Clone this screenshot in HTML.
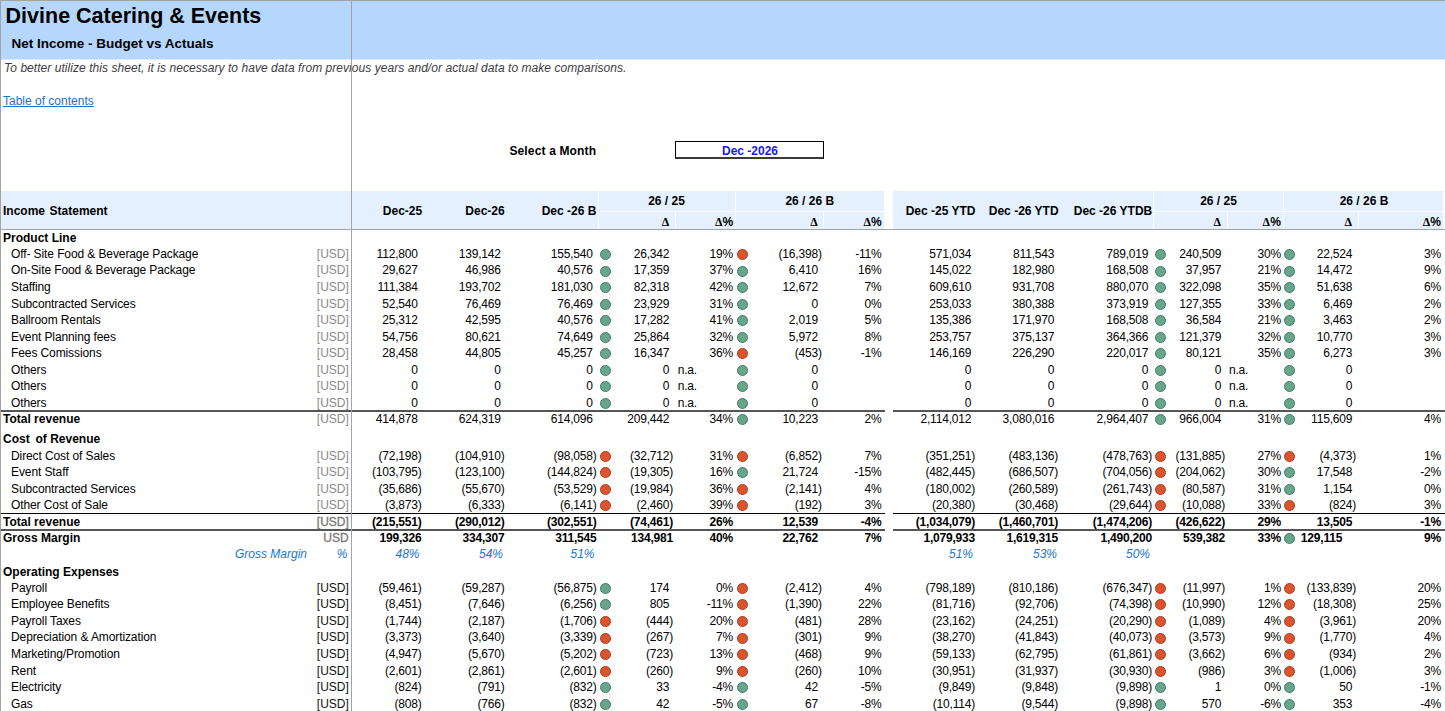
<!DOCTYPE html>
<html><head><meta charset="utf-8"><style>
html,body{margin:0;padding:0;background:#fff;}
body{width:1445px;height:711px;overflow:hidden;position:relative;font-family:"Liberation Sans", sans-serif;color:#000;}
body>div{position:absolute;}
.t{white-space:nowrap;}
.dot{border-radius:50%;}
</style></head><body>
<div style="left:0px;top:0px;width:1445px;height:1px;background:#a3a3a3;"></div>
<div style="left:0px;top:0px;width:1px;height:711px;background:#a3a3a3;"></div>
<div style="left:1px;top:1px;width:1444px;height:58px;background:#b4d7fb;"></div>
<div style="left:1px;top:59px;width:1444px;height:1px;background:#dcecfd;"></div>
<div class="t" style="left:5.60px;top:5.69px;font-size:21.5px;line-height:20px;font-weight:bold;color:#000">Divine Catering &amp; Events</div>
<div class="t" style="left:11.60px;top:34.14px;font-size:13.5px;line-height:20px;font-weight:bold;color:#000">Net Income - Budget vs Actuals</div>
<div class="t" style="left:4.00px;top:58.43px;font-size:12px;line-height:20px;font-style:italic;color:#3c3c44;letter-spacing:0.05px">To better utilize this sheet, it is necessary to have data from previous years and/or actual data to make comparisons.</div>
<div class="t" style="left:3.00px;top:90.53px;font-size:12px;line-height:20px;color:#1f6fd0;text-decoration:underline">Table of contents</div>
<div class="t" style="left:509.40px;top:141.03px;font-size:12px;line-height:20px;font-weight:bold;letter-spacing:0.15px">Select a Month</div>
<div style="left:675px;top:141px;width:147px;height:15px;background:#fff;border:1px solid #000;border-bottom:2px solid #3a3a3a"></div>
<div class="t" style="left:550.00px;top:141.03px;width:400px;text-align:center;font-size:12px;line-height:20px;font-weight:bold;color:#1a1af2">Dec -2026</div>
<div style="left:1px;top:191px;width:883px;height:38px;background:#e4f0fd;"></div>
<div style="left:893px;top:191px;width:550px;height:38px;background:#e4f0fd;"></div>
<div style="left:598px;top:191px;width:1px;height:38px;background:#fff;"></div>
<div style="left:735px;top:191px;width:1px;height:38px;background:#fff;"></div>
<div style="left:598px;top:211px;width:286px;height:1px;background:#fff;"></div>
<div style="left:675px;top:212px;width:1px;height:17px;background:#fff;"></div>
<div style="left:823px;top:212px;width:1px;height:17px;background:#fff;"></div>
<div style="left:1153px;top:191px;width:1px;height:38px;background:#fff;"></div>
<div style="left:1283px;top:191px;width:1px;height:38px;background:#fff;"></div>
<div style="left:1153px;top:211px;width:290px;height:1px;background:#fff;"></div>
<div style="left:1227px;top:212px;width:1px;height:17px;background:#fff;"></div>
<div style="left:1358px;top:212px;width:1px;height:17px;background:#fff;"></div>
<div style="left:0px;top:229px;width:1445px;height:1px;background:#a3a3a3;"></div>
<div class="t" style="left:3.00px;top:200.53px;font-size:12px;line-height:20px;font-weight:bold;word-spacing:1.2px">Income Statement</div>
<div class="t" style="left:202.50px;top:200.53px;width:400px;text-align:center;font-size:12px;line-height:20px;font-weight:bold">Dec-25</div>
<div class="t" style="left:285.00px;top:200.53px;width:400px;text-align:center;font-size:12px;line-height:20px;font-weight:bold">Dec-26</div>
<div class="t" style="left:369.00px;top:200.53px;width:400px;text-align:center;font-size:12px;line-height:20px;font-weight:bold">Dec -26 B</div>
<div class="t" style="left:466.50px;top:190.73px;width:400px;text-align:center;font-size:12px;line-height:20px;font-weight:bold">26 / 25</div>
<div class="t" style="left:609.80px;top:190.73px;width:400px;text-align:center;font-size:12px;line-height:20px;font-weight:bold">26 / 26 B</div>
<div class="t" style="left:269.30px;top:211.53px;width:400px;text-align:right;font-size:12px;line-height:20px;font-weight:bold"><span style="font-family:'Liberation Serif',serif">&Delta;</span></div>
<div class="t" style="left:333.20px;top:211.53px;width:400px;text-align:right;font-size:12px;line-height:20px;font-weight:bold"><span style="font-family:'Liberation Serif',serif">&Delta;</span>%</div>
<div class="t" style="left:417.70px;top:211.53px;width:400px;text-align:right;font-size:12px;line-height:20px;font-weight:bold"><span style="font-family:'Liberation Serif',serif">&Delta;</span></div>
<div class="t" style="left:481.70px;top:211.53px;width:400px;text-align:right;font-size:12px;line-height:20px;font-weight:bold"><span style="font-family:'Liberation Serif',serif">&Delta;</span>%</div>
<div class="t" style="left:740.60px;top:200.53px;width:400px;text-align:center;font-size:12px;line-height:20px;font-weight:bold">Dec -25 YTD</div>
<div class="t" style="left:823.70px;top:200.53px;width:400px;text-align:center;font-size:12px;line-height:20px;font-weight:bold">Dec -26 YTD</div>
<div class="t" style="left:913.00px;top:200.53px;width:400px;text-align:center;font-size:12px;line-height:20px;font-weight:bold">Dec -26 YTDB</div>
<div class="t" style="left:1018.50px;top:190.73px;width:400px;text-align:center;font-size:12px;line-height:20px;font-weight:bold">26 / 25</div>
<div class="t" style="left:1164.00px;top:190.73px;width:400px;text-align:center;font-size:12px;line-height:20px;font-weight:bold">26 / 26 B</div>
<div class="t" style="left:821.00px;top:211.53px;width:400px;text-align:right;font-size:12px;line-height:20px;font-weight:bold"><span style="font-family:'Liberation Serif',serif">&Delta;</span></div>
<div class="t" style="left:880.80px;top:211.53px;width:400px;text-align:right;font-size:12px;line-height:20px;font-weight:bold"><span style="font-family:'Liberation Serif',serif">&Delta;</span>%</div>
<div class="t" style="left:952.00px;top:211.53px;width:400px;text-align:right;font-size:12px;line-height:20px;font-weight:bold"><span style="font-family:'Liberation Serif',serif">&Delta;</span></div>
<div class="t" style="left:1041.00px;top:211.53px;width:400px;text-align:right;font-size:12px;line-height:20px;font-weight:bold"><span style="font-family:'Liberation Serif',serif">&Delta;</span>%</div>
<div class="t" style="left:3.00px;top:227.93px;font-size:12px;line-height:20px;font-weight:bold">Product Line</div>
<div class="t" style="left:11.00px;top:243.93px;font-size:12px;line-height:20px;letter-spacing:-0.1px">Off- Site Food &amp; Beverage Package</div>
<div class="t" style="left:-51.20px;top:243.93px;width:400px;text-align:right;font-size:12px;line-height:20px;color:#8a8a8a">[USD]</div>
<div class="t" style="left:21.50px;top:243.93px;width:400px;text-align:right;font-size:12px;line-height:20px;letter-spacing:-0.2px;">112,800<span style="visibility:hidden">)</span></div>
<div class="t" style="left:104.50px;top:243.93px;width:400px;text-align:right;font-size:12px;line-height:20px;letter-spacing:-0.2px;">139,142<span style="visibility:hidden">)</span></div>
<div class="t" style="left:196.50px;top:243.93px;width:400px;text-align:right;font-size:12px;line-height:20px;letter-spacing:-0.2px;">155,540<span style="visibility:hidden">)</span></div>
<div class="dot" style="left:599.60px;top:249.00px;width:9px;height:9px;background:#68a68b;border:1px solid #3f7f62"></div>
<div class="t" style="left:273.00px;top:243.93px;width:400px;text-align:right;font-size:12px;line-height:20px;letter-spacing:-0.2px;">26,342<span style="visibility:hidden">)</span></div>
<div class="t" style="left:333.00px;top:243.93px;width:400px;text-align:right;font-size:12px;line-height:20px;letter-spacing:-0.2px;">19%</div>
<div class="dot" style="left:737.10px;top:249.00px;width:9px;height:9px;background:#da552f;border:1px solid #b03b1a"></div>
<div class="t" style="left:421.70px;top:243.93px;width:400px;text-align:right;font-size:12px;line-height:20px;letter-spacing:-0.2px;">(16,398)</div>
<div class="t" style="left:481.50px;top:243.93px;width:400px;text-align:right;font-size:12px;line-height:20px;letter-spacing:-0.2px;">-11%</div>
<div class="t" style="left:575.00px;top:243.93px;width:400px;text-align:right;font-size:12px;line-height:20px;letter-spacing:-0.2px;">571,034<span style="visibility:hidden">)</span></div>
<div class="t" style="left:658.00px;top:243.93px;width:400px;text-align:right;font-size:12px;line-height:20px;letter-spacing:-0.2px;">811,543<span style="visibility:hidden">)</span></div>
<div class="t" style="left:752.00px;top:243.93px;width:400px;text-align:right;font-size:12px;line-height:20px;letter-spacing:-0.2px;">789,019<span style="visibility:hidden">)</span></div>
<div class="dot" style="left:1154.80px;top:249.00px;width:9px;height:9px;background:#68a68b;border:1px solid #3f7f62"></div>
<div class="t" style="left:825.00px;top:243.93px;width:400px;text-align:right;font-size:12px;line-height:20px;letter-spacing:-0.2px;">240,509<span style="visibility:hidden">)</span></div>
<div class="t" style="left:881.00px;top:243.93px;width:400px;text-align:right;font-size:12px;line-height:20px;letter-spacing:-0.2px;">30%</div>
<div class="dot" style="left:1284.30px;top:249.00px;width:9px;height:9px;background:#68a68b;border:1px solid #3f7f62"></div>
<div class="t" style="left:956.00px;top:243.93px;width:400px;text-align:right;font-size:12px;line-height:20px;letter-spacing:-0.2px;">22,524<span style="visibility:hidden">)</span></div>
<div class="t" style="left:1041.00px;top:243.93px;width:400px;text-align:right;font-size:12px;line-height:20px;letter-spacing:-0.2px;">3%</div>
<div class="t" style="left:11.00px;top:260.48px;font-size:12px;line-height:20px;letter-spacing:-0.1px">On-Site Food &amp; Beverage Package</div>
<div class="t" style="left:-51.20px;top:260.48px;width:400px;text-align:right;font-size:12px;line-height:20px;color:#8a8a8a">[USD]</div>
<div class="t" style="left:21.50px;top:260.48px;width:400px;text-align:right;font-size:12px;line-height:20px;letter-spacing:-0.2px;">29,627<span style="visibility:hidden">)</span></div>
<div class="t" style="left:104.50px;top:260.48px;width:400px;text-align:right;font-size:12px;line-height:20px;letter-spacing:-0.2px;">46,986<span style="visibility:hidden">)</span></div>
<div class="t" style="left:196.50px;top:260.48px;width:400px;text-align:right;font-size:12px;line-height:20px;letter-spacing:-0.2px;">40,576<span style="visibility:hidden">)</span></div>
<div class="dot" style="left:599.60px;top:265.55px;width:9px;height:9px;background:#68a68b;border:1px solid #3f7f62"></div>
<div class="t" style="left:273.00px;top:260.48px;width:400px;text-align:right;font-size:12px;line-height:20px;letter-spacing:-0.2px;">17,359<span style="visibility:hidden">)</span></div>
<div class="t" style="left:333.00px;top:260.48px;width:400px;text-align:right;font-size:12px;line-height:20px;letter-spacing:-0.2px;">37%</div>
<div class="dot" style="left:737.10px;top:265.55px;width:9px;height:9px;background:#68a68b;border:1px solid #3f7f62"></div>
<div class="t" style="left:421.70px;top:260.48px;width:400px;text-align:right;font-size:12px;line-height:20px;letter-spacing:-0.2px;">6,410<span style="visibility:hidden">)</span></div>
<div class="t" style="left:481.50px;top:260.48px;width:400px;text-align:right;font-size:12px;line-height:20px;letter-spacing:-0.2px;">16%</div>
<div class="t" style="left:575.00px;top:260.48px;width:400px;text-align:right;font-size:12px;line-height:20px;letter-spacing:-0.2px;">145,022<span style="visibility:hidden">)</span></div>
<div class="t" style="left:658.00px;top:260.48px;width:400px;text-align:right;font-size:12px;line-height:20px;letter-spacing:-0.2px;">182,980<span style="visibility:hidden">)</span></div>
<div class="t" style="left:752.00px;top:260.48px;width:400px;text-align:right;font-size:12px;line-height:20px;letter-spacing:-0.2px;">168,508<span style="visibility:hidden">)</span></div>
<div class="dot" style="left:1154.80px;top:265.55px;width:9px;height:9px;background:#68a68b;border:1px solid #3f7f62"></div>
<div class="t" style="left:825.00px;top:260.48px;width:400px;text-align:right;font-size:12px;line-height:20px;letter-spacing:-0.2px;">37,957<span style="visibility:hidden">)</span></div>
<div class="t" style="left:881.00px;top:260.48px;width:400px;text-align:right;font-size:12px;line-height:20px;letter-spacing:-0.2px;">21%</div>
<div class="dot" style="left:1284.30px;top:265.55px;width:9px;height:9px;background:#68a68b;border:1px solid #3f7f62"></div>
<div class="t" style="left:956.00px;top:260.48px;width:400px;text-align:right;font-size:12px;line-height:20px;letter-spacing:-0.2px;">14,472<span style="visibility:hidden">)</span></div>
<div class="t" style="left:1041.00px;top:260.48px;width:400px;text-align:right;font-size:12px;line-height:20px;letter-spacing:-0.2px;">9%</div>
<div class="t" style="left:11.00px;top:277.03px;font-size:12px;line-height:20px;letter-spacing:-0.1px">Staffing</div>
<div class="t" style="left:-51.20px;top:277.03px;width:400px;text-align:right;font-size:12px;line-height:20px;color:#8a8a8a">[USD]</div>
<div class="t" style="left:21.50px;top:277.03px;width:400px;text-align:right;font-size:12px;line-height:20px;letter-spacing:-0.2px;">111,384<span style="visibility:hidden">)</span></div>
<div class="t" style="left:104.50px;top:277.03px;width:400px;text-align:right;font-size:12px;line-height:20px;letter-spacing:-0.2px;">193,702<span style="visibility:hidden">)</span></div>
<div class="t" style="left:196.50px;top:277.03px;width:400px;text-align:right;font-size:12px;line-height:20px;letter-spacing:-0.2px;">181,030<span style="visibility:hidden">)</span></div>
<div class="dot" style="left:599.60px;top:282.10px;width:9px;height:9px;background:#68a68b;border:1px solid #3f7f62"></div>
<div class="t" style="left:273.00px;top:277.03px;width:400px;text-align:right;font-size:12px;line-height:20px;letter-spacing:-0.2px;">82,318<span style="visibility:hidden">)</span></div>
<div class="t" style="left:333.00px;top:277.03px;width:400px;text-align:right;font-size:12px;line-height:20px;letter-spacing:-0.2px;">42%</div>
<div class="dot" style="left:737.10px;top:282.10px;width:9px;height:9px;background:#68a68b;border:1px solid #3f7f62"></div>
<div class="t" style="left:421.70px;top:277.03px;width:400px;text-align:right;font-size:12px;line-height:20px;letter-spacing:-0.2px;">12,672<span style="visibility:hidden">)</span></div>
<div class="t" style="left:481.50px;top:277.03px;width:400px;text-align:right;font-size:12px;line-height:20px;letter-spacing:-0.2px;">7%</div>
<div class="t" style="left:575.00px;top:277.03px;width:400px;text-align:right;font-size:12px;line-height:20px;letter-spacing:-0.2px;">609,610<span style="visibility:hidden">)</span></div>
<div class="t" style="left:658.00px;top:277.03px;width:400px;text-align:right;font-size:12px;line-height:20px;letter-spacing:-0.2px;">931,708<span style="visibility:hidden">)</span></div>
<div class="t" style="left:752.00px;top:277.03px;width:400px;text-align:right;font-size:12px;line-height:20px;letter-spacing:-0.2px;">880,070<span style="visibility:hidden">)</span></div>
<div class="dot" style="left:1154.80px;top:282.10px;width:9px;height:9px;background:#68a68b;border:1px solid #3f7f62"></div>
<div class="t" style="left:825.00px;top:277.03px;width:400px;text-align:right;font-size:12px;line-height:20px;letter-spacing:-0.2px;">322,098<span style="visibility:hidden">)</span></div>
<div class="t" style="left:881.00px;top:277.03px;width:400px;text-align:right;font-size:12px;line-height:20px;letter-spacing:-0.2px;">35%</div>
<div class="dot" style="left:1284.30px;top:282.10px;width:9px;height:9px;background:#68a68b;border:1px solid #3f7f62"></div>
<div class="t" style="left:956.00px;top:277.03px;width:400px;text-align:right;font-size:12px;line-height:20px;letter-spacing:-0.2px;">51,638<span style="visibility:hidden">)</span></div>
<div class="t" style="left:1041.00px;top:277.03px;width:400px;text-align:right;font-size:12px;line-height:20px;letter-spacing:-0.2px;">6%</div>
<div class="t" style="left:11.00px;top:293.58px;font-size:12px;line-height:20px;letter-spacing:-0.1px">Subcontracted Services</div>
<div class="t" style="left:-51.20px;top:293.58px;width:400px;text-align:right;font-size:12px;line-height:20px;color:#8a8a8a">[USD]</div>
<div class="t" style="left:21.50px;top:293.58px;width:400px;text-align:right;font-size:12px;line-height:20px;letter-spacing:-0.2px;">52,540<span style="visibility:hidden">)</span></div>
<div class="t" style="left:104.50px;top:293.58px;width:400px;text-align:right;font-size:12px;line-height:20px;letter-spacing:-0.2px;">76,469<span style="visibility:hidden">)</span></div>
<div class="t" style="left:196.50px;top:293.58px;width:400px;text-align:right;font-size:12px;line-height:20px;letter-spacing:-0.2px;">76,469<span style="visibility:hidden">)</span></div>
<div class="dot" style="left:599.60px;top:298.65px;width:9px;height:9px;background:#68a68b;border:1px solid #3f7f62"></div>
<div class="t" style="left:273.00px;top:293.58px;width:400px;text-align:right;font-size:12px;line-height:20px;letter-spacing:-0.2px;">23,929<span style="visibility:hidden">)</span></div>
<div class="t" style="left:333.00px;top:293.58px;width:400px;text-align:right;font-size:12px;line-height:20px;letter-spacing:-0.2px;">31%</div>
<div class="dot" style="left:737.10px;top:298.65px;width:9px;height:9px;background:#68a68b;border:1px solid #3f7f62"></div>
<div class="t" style="left:421.70px;top:293.58px;width:400px;text-align:right;font-size:12px;line-height:20px;letter-spacing:-0.2px;">0<span style="visibility:hidden">)</span></div>
<div class="t" style="left:481.50px;top:293.58px;width:400px;text-align:right;font-size:12px;line-height:20px;letter-spacing:-0.2px;">0%</div>
<div class="t" style="left:575.00px;top:293.58px;width:400px;text-align:right;font-size:12px;line-height:20px;letter-spacing:-0.2px;">253,033<span style="visibility:hidden">)</span></div>
<div class="t" style="left:658.00px;top:293.58px;width:400px;text-align:right;font-size:12px;line-height:20px;letter-spacing:-0.2px;">380,388<span style="visibility:hidden">)</span></div>
<div class="t" style="left:752.00px;top:293.58px;width:400px;text-align:right;font-size:12px;line-height:20px;letter-spacing:-0.2px;">373,919<span style="visibility:hidden">)</span></div>
<div class="dot" style="left:1154.80px;top:298.65px;width:9px;height:9px;background:#68a68b;border:1px solid #3f7f62"></div>
<div class="t" style="left:825.00px;top:293.58px;width:400px;text-align:right;font-size:12px;line-height:20px;letter-spacing:-0.2px;">127,355<span style="visibility:hidden">)</span></div>
<div class="t" style="left:881.00px;top:293.58px;width:400px;text-align:right;font-size:12px;line-height:20px;letter-spacing:-0.2px;">33%</div>
<div class="dot" style="left:1284.30px;top:298.65px;width:9px;height:9px;background:#68a68b;border:1px solid #3f7f62"></div>
<div class="t" style="left:956.00px;top:293.58px;width:400px;text-align:right;font-size:12px;line-height:20px;letter-spacing:-0.2px;">6,469<span style="visibility:hidden">)</span></div>
<div class="t" style="left:1041.00px;top:293.58px;width:400px;text-align:right;font-size:12px;line-height:20px;letter-spacing:-0.2px;">2%</div>
<div class="t" style="left:11.00px;top:310.13px;font-size:12px;line-height:20px;letter-spacing:-0.1px">Ballroom Rentals</div>
<div class="t" style="left:-51.20px;top:310.13px;width:400px;text-align:right;font-size:12px;line-height:20px;color:#8a8a8a">[USD]</div>
<div class="t" style="left:21.50px;top:310.13px;width:400px;text-align:right;font-size:12px;line-height:20px;letter-spacing:-0.2px;">25,312<span style="visibility:hidden">)</span></div>
<div class="t" style="left:104.50px;top:310.13px;width:400px;text-align:right;font-size:12px;line-height:20px;letter-spacing:-0.2px;">42,595<span style="visibility:hidden">)</span></div>
<div class="t" style="left:196.50px;top:310.13px;width:400px;text-align:right;font-size:12px;line-height:20px;letter-spacing:-0.2px;">40,576<span style="visibility:hidden">)</span></div>
<div class="dot" style="left:599.60px;top:315.20px;width:9px;height:9px;background:#68a68b;border:1px solid #3f7f62"></div>
<div class="t" style="left:273.00px;top:310.13px;width:400px;text-align:right;font-size:12px;line-height:20px;letter-spacing:-0.2px;">17,282<span style="visibility:hidden">)</span></div>
<div class="t" style="left:333.00px;top:310.13px;width:400px;text-align:right;font-size:12px;line-height:20px;letter-spacing:-0.2px;">41%</div>
<div class="dot" style="left:737.10px;top:315.20px;width:9px;height:9px;background:#68a68b;border:1px solid #3f7f62"></div>
<div class="t" style="left:421.70px;top:310.13px;width:400px;text-align:right;font-size:12px;line-height:20px;letter-spacing:-0.2px;">2,019<span style="visibility:hidden">)</span></div>
<div class="t" style="left:481.50px;top:310.13px;width:400px;text-align:right;font-size:12px;line-height:20px;letter-spacing:-0.2px;">5%</div>
<div class="t" style="left:575.00px;top:310.13px;width:400px;text-align:right;font-size:12px;line-height:20px;letter-spacing:-0.2px;">135,386<span style="visibility:hidden">)</span></div>
<div class="t" style="left:658.00px;top:310.13px;width:400px;text-align:right;font-size:12px;line-height:20px;letter-spacing:-0.2px;">171,970<span style="visibility:hidden">)</span></div>
<div class="t" style="left:752.00px;top:310.13px;width:400px;text-align:right;font-size:12px;line-height:20px;letter-spacing:-0.2px;">168,508<span style="visibility:hidden">)</span></div>
<div class="dot" style="left:1154.80px;top:315.20px;width:9px;height:9px;background:#68a68b;border:1px solid #3f7f62"></div>
<div class="t" style="left:825.00px;top:310.13px;width:400px;text-align:right;font-size:12px;line-height:20px;letter-spacing:-0.2px;">36,584<span style="visibility:hidden">)</span></div>
<div class="t" style="left:881.00px;top:310.13px;width:400px;text-align:right;font-size:12px;line-height:20px;letter-spacing:-0.2px;">21%</div>
<div class="dot" style="left:1284.30px;top:315.20px;width:9px;height:9px;background:#68a68b;border:1px solid #3f7f62"></div>
<div class="t" style="left:956.00px;top:310.13px;width:400px;text-align:right;font-size:12px;line-height:20px;letter-spacing:-0.2px;">3,463<span style="visibility:hidden">)</span></div>
<div class="t" style="left:1041.00px;top:310.13px;width:400px;text-align:right;font-size:12px;line-height:20px;letter-spacing:-0.2px;">2%</div>
<div class="t" style="left:11.00px;top:326.68px;font-size:12px;line-height:20px;letter-spacing:-0.1px">Event Planning fees</div>
<div class="t" style="left:-51.20px;top:326.68px;width:400px;text-align:right;font-size:12px;line-height:20px;color:#8a8a8a">[USD]</div>
<div class="t" style="left:21.50px;top:326.68px;width:400px;text-align:right;font-size:12px;line-height:20px;letter-spacing:-0.2px;">54,756<span style="visibility:hidden">)</span></div>
<div class="t" style="left:104.50px;top:326.68px;width:400px;text-align:right;font-size:12px;line-height:20px;letter-spacing:-0.2px;">80,621<span style="visibility:hidden">)</span></div>
<div class="t" style="left:196.50px;top:326.68px;width:400px;text-align:right;font-size:12px;line-height:20px;letter-spacing:-0.2px;">74,649<span style="visibility:hidden">)</span></div>
<div class="dot" style="left:599.60px;top:331.75px;width:9px;height:9px;background:#68a68b;border:1px solid #3f7f62"></div>
<div class="t" style="left:273.00px;top:326.68px;width:400px;text-align:right;font-size:12px;line-height:20px;letter-spacing:-0.2px;">25,864<span style="visibility:hidden">)</span></div>
<div class="t" style="left:333.00px;top:326.68px;width:400px;text-align:right;font-size:12px;line-height:20px;letter-spacing:-0.2px;">32%</div>
<div class="dot" style="left:737.10px;top:331.75px;width:9px;height:9px;background:#68a68b;border:1px solid #3f7f62"></div>
<div class="t" style="left:421.70px;top:326.68px;width:400px;text-align:right;font-size:12px;line-height:20px;letter-spacing:-0.2px;">5,972<span style="visibility:hidden">)</span></div>
<div class="t" style="left:481.50px;top:326.68px;width:400px;text-align:right;font-size:12px;line-height:20px;letter-spacing:-0.2px;">8%</div>
<div class="t" style="left:575.00px;top:326.68px;width:400px;text-align:right;font-size:12px;line-height:20px;letter-spacing:-0.2px;">253,757<span style="visibility:hidden">)</span></div>
<div class="t" style="left:658.00px;top:326.68px;width:400px;text-align:right;font-size:12px;line-height:20px;letter-spacing:-0.2px;">375,137<span style="visibility:hidden">)</span></div>
<div class="t" style="left:752.00px;top:326.68px;width:400px;text-align:right;font-size:12px;line-height:20px;letter-spacing:-0.2px;">364,366<span style="visibility:hidden">)</span></div>
<div class="dot" style="left:1154.80px;top:331.75px;width:9px;height:9px;background:#68a68b;border:1px solid #3f7f62"></div>
<div class="t" style="left:825.00px;top:326.68px;width:400px;text-align:right;font-size:12px;line-height:20px;letter-spacing:-0.2px;">121,379<span style="visibility:hidden">)</span></div>
<div class="t" style="left:881.00px;top:326.68px;width:400px;text-align:right;font-size:12px;line-height:20px;letter-spacing:-0.2px;">32%</div>
<div class="dot" style="left:1284.30px;top:331.75px;width:9px;height:9px;background:#68a68b;border:1px solid #3f7f62"></div>
<div class="t" style="left:956.00px;top:326.68px;width:400px;text-align:right;font-size:12px;line-height:20px;letter-spacing:-0.2px;">10,770<span style="visibility:hidden">)</span></div>
<div class="t" style="left:1041.00px;top:326.68px;width:400px;text-align:right;font-size:12px;line-height:20px;letter-spacing:-0.2px;">3%</div>
<div class="t" style="left:11.00px;top:343.23px;font-size:12px;line-height:20px;letter-spacing:-0.1px">Fees Comissions</div>
<div class="t" style="left:-51.20px;top:343.23px;width:400px;text-align:right;font-size:12px;line-height:20px;color:#8a8a8a">[USD]</div>
<div class="t" style="left:21.50px;top:343.23px;width:400px;text-align:right;font-size:12px;line-height:20px;letter-spacing:-0.2px;">28,458<span style="visibility:hidden">)</span></div>
<div class="t" style="left:104.50px;top:343.23px;width:400px;text-align:right;font-size:12px;line-height:20px;letter-spacing:-0.2px;">44,805<span style="visibility:hidden">)</span></div>
<div class="t" style="left:196.50px;top:343.23px;width:400px;text-align:right;font-size:12px;line-height:20px;letter-spacing:-0.2px;">45,257<span style="visibility:hidden">)</span></div>
<div class="dot" style="left:599.60px;top:348.30px;width:9px;height:9px;background:#68a68b;border:1px solid #3f7f62"></div>
<div class="t" style="left:273.00px;top:343.23px;width:400px;text-align:right;font-size:12px;line-height:20px;letter-spacing:-0.2px;">16,347<span style="visibility:hidden">)</span></div>
<div class="t" style="left:333.00px;top:343.23px;width:400px;text-align:right;font-size:12px;line-height:20px;letter-spacing:-0.2px;">36%</div>
<div class="dot" style="left:737.10px;top:348.30px;width:9px;height:9px;background:#da552f;border:1px solid #b03b1a"></div>
<div class="t" style="left:421.70px;top:343.23px;width:400px;text-align:right;font-size:12px;line-height:20px;letter-spacing:-0.2px;">(453)</div>
<div class="t" style="left:481.50px;top:343.23px;width:400px;text-align:right;font-size:12px;line-height:20px;letter-spacing:-0.2px;">-1%</div>
<div class="t" style="left:575.00px;top:343.23px;width:400px;text-align:right;font-size:12px;line-height:20px;letter-spacing:-0.2px;">146,169<span style="visibility:hidden">)</span></div>
<div class="t" style="left:658.00px;top:343.23px;width:400px;text-align:right;font-size:12px;line-height:20px;letter-spacing:-0.2px;">226,290<span style="visibility:hidden">)</span></div>
<div class="t" style="left:752.00px;top:343.23px;width:400px;text-align:right;font-size:12px;line-height:20px;letter-spacing:-0.2px;">220,017<span style="visibility:hidden">)</span></div>
<div class="dot" style="left:1154.80px;top:348.30px;width:9px;height:9px;background:#68a68b;border:1px solid #3f7f62"></div>
<div class="t" style="left:825.00px;top:343.23px;width:400px;text-align:right;font-size:12px;line-height:20px;letter-spacing:-0.2px;">80,121<span style="visibility:hidden">)</span></div>
<div class="t" style="left:881.00px;top:343.23px;width:400px;text-align:right;font-size:12px;line-height:20px;letter-spacing:-0.2px;">35%</div>
<div class="dot" style="left:1284.30px;top:348.30px;width:9px;height:9px;background:#68a68b;border:1px solid #3f7f62"></div>
<div class="t" style="left:956.00px;top:343.23px;width:400px;text-align:right;font-size:12px;line-height:20px;letter-spacing:-0.2px;">6,273<span style="visibility:hidden">)</span></div>
<div class="t" style="left:1041.00px;top:343.23px;width:400px;text-align:right;font-size:12px;line-height:20px;letter-spacing:-0.2px;">3%</div>
<div class="t" style="left:11.00px;top:359.78px;font-size:12px;line-height:20px;letter-spacing:-0.1px">Others</div>
<div class="t" style="left:-51.20px;top:359.78px;width:400px;text-align:right;font-size:12px;line-height:20px;color:#8a8a8a">[USD]</div>
<div class="t" style="left:21.50px;top:359.78px;width:400px;text-align:right;font-size:12px;line-height:20px;letter-spacing:-0.2px;">0<span style="visibility:hidden">)</span></div>
<div class="t" style="left:104.50px;top:359.78px;width:400px;text-align:right;font-size:12px;line-height:20px;letter-spacing:-0.2px;">0<span style="visibility:hidden">)</span></div>
<div class="t" style="left:196.50px;top:359.78px;width:400px;text-align:right;font-size:12px;line-height:20px;letter-spacing:-0.2px;">0<span style="visibility:hidden">)</span></div>
<div class="dot" style="left:599.60px;top:364.85px;width:9px;height:9px;background:#68a68b;border:1px solid #3f7f62"></div>
<div class="t" style="left:273.00px;top:359.78px;width:400px;text-align:right;font-size:12px;line-height:20px;letter-spacing:-0.2px;">0<span style="visibility:hidden">)</span></div>
<div class="t" style="left:677.70px;top:359.78px;font-size:12px;line-height:20px;letter-spacing:-0.2px">n.a.</div>
<div class="dot" style="left:737.10px;top:364.85px;width:9px;height:9px;background:#68a68b;border:1px solid #3f7f62"></div>
<div class="t" style="left:421.70px;top:359.78px;width:400px;text-align:right;font-size:12px;line-height:20px;letter-spacing:-0.2px;">0<span style="visibility:hidden">)</span></div>
<div class="t" style="left:575.00px;top:359.78px;width:400px;text-align:right;font-size:12px;line-height:20px;letter-spacing:-0.2px;">0<span style="visibility:hidden">)</span></div>
<div class="t" style="left:658.00px;top:359.78px;width:400px;text-align:right;font-size:12px;line-height:20px;letter-spacing:-0.2px;">0<span style="visibility:hidden">)</span></div>
<div class="t" style="left:752.00px;top:359.78px;width:400px;text-align:right;font-size:12px;line-height:20px;letter-spacing:-0.2px;">0<span style="visibility:hidden">)</span></div>
<div class="dot" style="left:1154.80px;top:364.85px;width:9px;height:9px;background:#68a68b;border:1px solid #3f7f62"></div>
<div class="t" style="left:825.00px;top:359.78px;width:400px;text-align:right;font-size:12px;line-height:20px;letter-spacing:-0.2px;">0<span style="visibility:hidden">)</span></div>
<div class="t" style="left:1229.00px;top:359.78px;font-size:12px;line-height:20px;letter-spacing:-0.2px">n.a.</div>
<div class="dot" style="left:1284.30px;top:364.85px;width:9px;height:9px;background:#68a68b;border:1px solid #3f7f62"></div>
<div class="t" style="left:956.00px;top:359.78px;width:400px;text-align:right;font-size:12px;line-height:20px;letter-spacing:-0.2px;">0<span style="visibility:hidden">)</span></div>
<div class="t" style="left:11.00px;top:376.33px;font-size:12px;line-height:20px;letter-spacing:-0.1px">Others</div>
<div class="t" style="left:-51.20px;top:376.33px;width:400px;text-align:right;font-size:12px;line-height:20px;color:#8a8a8a">[USD]</div>
<div class="t" style="left:21.50px;top:376.33px;width:400px;text-align:right;font-size:12px;line-height:20px;letter-spacing:-0.2px;">0<span style="visibility:hidden">)</span></div>
<div class="t" style="left:104.50px;top:376.33px;width:400px;text-align:right;font-size:12px;line-height:20px;letter-spacing:-0.2px;">0<span style="visibility:hidden">)</span></div>
<div class="t" style="left:196.50px;top:376.33px;width:400px;text-align:right;font-size:12px;line-height:20px;letter-spacing:-0.2px;">0<span style="visibility:hidden">)</span></div>
<div class="dot" style="left:599.60px;top:381.40px;width:9px;height:9px;background:#68a68b;border:1px solid #3f7f62"></div>
<div class="t" style="left:273.00px;top:376.33px;width:400px;text-align:right;font-size:12px;line-height:20px;letter-spacing:-0.2px;">0<span style="visibility:hidden">)</span></div>
<div class="t" style="left:677.70px;top:376.33px;font-size:12px;line-height:20px;letter-spacing:-0.2px">n.a.</div>
<div class="dot" style="left:737.10px;top:381.40px;width:9px;height:9px;background:#68a68b;border:1px solid #3f7f62"></div>
<div class="t" style="left:421.70px;top:376.33px;width:400px;text-align:right;font-size:12px;line-height:20px;letter-spacing:-0.2px;">0<span style="visibility:hidden">)</span></div>
<div class="t" style="left:575.00px;top:376.33px;width:400px;text-align:right;font-size:12px;line-height:20px;letter-spacing:-0.2px;">0<span style="visibility:hidden">)</span></div>
<div class="t" style="left:658.00px;top:376.33px;width:400px;text-align:right;font-size:12px;line-height:20px;letter-spacing:-0.2px;">0<span style="visibility:hidden">)</span></div>
<div class="t" style="left:752.00px;top:376.33px;width:400px;text-align:right;font-size:12px;line-height:20px;letter-spacing:-0.2px;">0<span style="visibility:hidden">)</span></div>
<div class="dot" style="left:1154.80px;top:381.40px;width:9px;height:9px;background:#68a68b;border:1px solid #3f7f62"></div>
<div class="t" style="left:825.00px;top:376.33px;width:400px;text-align:right;font-size:12px;line-height:20px;letter-spacing:-0.2px;">0<span style="visibility:hidden">)</span></div>
<div class="t" style="left:1229.00px;top:376.33px;font-size:12px;line-height:20px;letter-spacing:-0.2px">n.a.</div>
<div class="dot" style="left:1284.30px;top:381.40px;width:9px;height:9px;background:#68a68b;border:1px solid #3f7f62"></div>
<div class="t" style="left:956.00px;top:376.33px;width:400px;text-align:right;font-size:12px;line-height:20px;letter-spacing:-0.2px;">0<span style="visibility:hidden">)</span></div>
<div class="t" style="left:11.00px;top:392.88px;font-size:12px;line-height:20px;letter-spacing:-0.1px">Others</div>
<div class="t" style="left:-51.20px;top:392.88px;width:400px;text-align:right;font-size:12px;line-height:20px;color:#8a8a8a">[USD]</div>
<div class="t" style="left:21.50px;top:392.88px;width:400px;text-align:right;font-size:12px;line-height:20px;letter-spacing:-0.2px;">0<span style="visibility:hidden">)</span></div>
<div class="t" style="left:104.50px;top:392.88px;width:400px;text-align:right;font-size:12px;line-height:20px;letter-spacing:-0.2px;">0<span style="visibility:hidden">)</span></div>
<div class="t" style="left:196.50px;top:392.88px;width:400px;text-align:right;font-size:12px;line-height:20px;letter-spacing:-0.2px;">0<span style="visibility:hidden">)</span></div>
<div class="dot" style="left:599.60px;top:397.95px;width:9px;height:9px;background:#68a68b;border:1px solid #3f7f62"></div>
<div class="t" style="left:273.00px;top:392.88px;width:400px;text-align:right;font-size:12px;line-height:20px;letter-spacing:-0.2px;">0<span style="visibility:hidden">)</span></div>
<div class="t" style="left:677.70px;top:392.88px;font-size:12px;line-height:20px;letter-spacing:-0.2px">n.a.</div>
<div class="dot" style="left:737.10px;top:397.95px;width:9px;height:9px;background:#68a68b;border:1px solid #3f7f62"></div>
<div class="t" style="left:421.70px;top:392.88px;width:400px;text-align:right;font-size:12px;line-height:20px;letter-spacing:-0.2px;">0<span style="visibility:hidden">)</span></div>
<div class="t" style="left:575.00px;top:392.88px;width:400px;text-align:right;font-size:12px;line-height:20px;letter-spacing:-0.2px;">0<span style="visibility:hidden">)</span></div>
<div class="t" style="left:658.00px;top:392.88px;width:400px;text-align:right;font-size:12px;line-height:20px;letter-spacing:-0.2px;">0<span style="visibility:hidden">)</span></div>
<div class="t" style="left:752.00px;top:392.88px;width:400px;text-align:right;font-size:12px;line-height:20px;letter-spacing:-0.2px;">0<span style="visibility:hidden">)</span></div>
<div class="dot" style="left:1154.80px;top:397.95px;width:9px;height:9px;background:#68a68b;border:1px solid #3f7f62"></div>
<div class="t" style="left:825.00px;top:392.88px;width:400px;text-align:right;font-size:12px;line-height:20px;letter-spacing:-0.2px;">0<span style="visibility:hidden">)</span></div>
<div class="t" style="left:1229.00px;top:392.88px;font-size:12px;line-height:20px;letter-spacing:-0.2px">n.a.</div>
<div class="dot" style="left:1284.30px;top:397.95px;width:9px;height:9px;background:#68a68b;border:1px solid #3f7f62"></div>
<div class="t" style="left:956.00px;top:392.88px;width:400px;text-align:right;font-size:12px;line-height:20px;letter-spacing:-0.2px;">0<span style="visibility:hidden">)</span></div>
<div style="left:1px;top:410px;width:884px;height:2px;background:#555;"></div>
<div style="left:893px;top:410px;width:552px;height:2px;background:#555;"></div>
<div class="t" style="left:3.00px;top:409.23px;font-size:12px;line-height:20px;font-weight:bold">Total revenue</div>
<div class="t" style="left:-51.20px;top:409.23px;width:400px;text-align:right;font-size:12px;line-height:20px;color:#8a8a8a">[USD]</div>
<div class="t" style="left:21.50px;top:409.23px;width:400px;text-align:right;font-size:12px;line-height:20px;letter-spacing:-0.2px;">414,878<span style="visibility:hidden">)</span></div>
<div class="t" style="left:104.50px;top:409.23px;width:400px;text-align:right;font-size:12px;line-height:20px;letter-spacing:-0.2px;">624,319<span style="visibility:hidden">)</span></div>
<div class="t" style="left:196.50px;top:409.23px;width:400px;text-align:right;font-size:12px;line-height:20px;letter-spacing:-0.2px;">614,096<span style="visibility:hidden">)</span></div>
<div class="t" style="left:273.00px;top:409.23px;width:400px;text-align:right;font-size:12px;line-height:20px;letter-spacing:-0.2px;">209,442<span style="visibility:hidden">)</span></div>
<div class="t" style="left:333.00px;top:409.23px;width:400px;text-align:right;font-size:12px;line-height:20px;letter-spacing:-0.2px;">34%</div>
<div class="dot" style="left:737.10px;top:414.30px;width:9px;height:9px;background:#68a68b;border:1px solid #3f7f62"></div>
<div class="t" style="left:421.70px;top:409.23px;width:400px;text-align:right;font-size:12px;line-height:20px;letter-spacing:-0.2px;">10,223<span style="visibility:hidden">)</span></div>
<div class="t" style="left:481.50px;top:409.23px;width:400px;text-align:right;font-size:12px;line-height:20px;letter-spacing:-0.2px;">2%</div>
<div class="t" style="left:575.00px;top:409.23px;width:400px;text-align:right;font-size:12px;line-height:20px;letter-spacing:-0.2px;">2,114,012<span style="visibility:hidden">)</span></div>
<div class="t" style="left:658.00px;top:409.23px;width:400px;text-align:right;font-size:12px;line-height:20px;letter-spacing:-0.2px;">3,080,016<span style="visibility:hidden">)</span></div>
<div class="t" style="left:752.00px;top:409.23px;width:400px;text-align:right;font-size:12px;line-height:20px;letter-spacing:-0.2px;">2,964,407<span style="visibility:hidden">)</span></div>
<div class="dot" style="left:1154.80px;top:414.30px;width:9px;height:9px;background:#68a68b;border:1px solid #3f7f62"></div>
<div class="t" style="left:825.00px;top:409.23px;width:400px;text-align:right;font-size:12px;line-height:20px;letter-spacing:-0.2px;">966,004<span style="visibility:hidden">)</span></div>
<div class="t" style="left:881.00px;top:409.23px;width:400px;text-align:right;font-size:12px;line-height:20px;letter-spacing:-0.2px;">31%</div>
<div class="dot" style="left:1284.30px;top:414.30px;width:9px;height:9px;background:#68a68b;border:1px solid #3f7f62"></div>
<div class="t" style="left:956.00px;top:409.23px;width:400px;text-align:right;font-size:12px;line-height:20px;letter-spacing:-0.2px;">115,609<span style="visibility:hidden">)</span></div>
<div class="t" style="left:1041.00px;top:409.23px;width:400px;text-align:right;font-size:12px;line-height:20px;letter-spacing:-0.2px;">4%</div>
<div class="t" style="left:3.00px;top:429.03px;font-size:12px;line-height:20px;font-weight:bold">Cost<span style="display:inline-block;width:2.5px"></span> of Revenue</div>
<div class="t" style="left:11.00px;top:445.63px;font-size:12px;line-height:20px;letter-spacing:-0.1px">Direct Cost of Sales</div>
<div class="t" style="left:-51.20px;top:445.63px;width:400px;text-align:right;font-size:12px;line-height:20px;color:#8a8a8a">[USD]</div>
<div class="t" style="left:21.50px;top:445.63px;width:400px;text-align:right;font-size:12px;line-height:20px;letter-spacing:-0.2px;">(72,198)</div>
<div class="t" style="left:104.50px;top:445.63px;width:400px;text-align:right;font-size:12px;line-height:20px;letter-spacing:-0.2px;">(104,910)</div>
<div class="t" style="left:196.50px;top:445.63px;width:400px;text-align:right;font-size:12px;line-height:20px;letter-spacing:-0.2px;">(98,058)</div>
<div class="dot" style="left:599.60px;top:450.70px;width:9px;height:9px;background:#da552f;border:1px solid #b03b1a"></div>
<div class="t" style="left:273.00px;top:445.63px;width:400px;text-align:right;font-size:12px;line-height:20px;letter-spacing:-0.2px;">(32,712)</div>
<div class="t" style="left:333.00px;top:445.63px;width:400px;text-align:right;font-size:12px;line-height:20px;letter-spacing:-0.2px;">31%</div>
<div class="dot" style="left:737.10px;top:450.70px;width:9px;height:9px;background:#da552f;border:1px solid #b03b1a"></div>
<div class="t" style="left:421.70px;top:445.63px;width:400px;text-align:right;font-size:12px;line-height:20px;letter-spacing:-0.2px;">(6,852)</div>
<div class="t" style="left:481.50px;top:445.63px;width:400px;text-align:right;font-size:12px;line-height:20px;letter-spacing:-0.2px;">7%</div>
<div class="t" style="left:575.00px;top:445.63px;width:400px;text-align:right;font-size:12px;line-height:20px;letter-spacing:-0.2px;">(351,251)</div>
<div class="t" style="left:658.00px;top:445.63px;width:400px;text-align:right;font-size:12px;line-height:20px;letter-spacing:-0.2px;">(483,136)</div>
<div class="t" style="left:752.00px;top:445.63px;width:400px;text-align:right;font-size:12px;line-height:20px;letter-spacing:-0.2px;">(478,763)</div>
<div class="dot" style="left:1154.80px;top:450.70px;width:9px;height:9px;background:#da552f;border:1px solid #b03b1a"></div>
<div class="t" style="left:825.00px;top:445.63px;width:400px;text-align:right;font-size:12px;line-height:20px;letter-spacing:-0.2px;">(131,885)</div>
<div class="t" style="left:881.00px;top:445.63px;width:400px;text-align:right;font-size:12px;line-height:20px;letter-spacing:-0.2px;">27%</div>
<div class="dot" style="left:1284.30px;top:450.70px;width:9px;height:9px;background:#da552f;border:1px solid #b03b1a"></div>
<div class="t" style="left:956.00px;top:445.63px;width:400px;text-align:right;font-size:12px;line-height:20px;letter-spacing:-0.2px;">(4,373)</div>
<div class="t" style="left:1041.00px;top:445.63px;width:400px;text-align:right;font-size:12px;line-height:20px;letter-spacing:-0.2px;">1%</div>
<div class="t" style="left:11.00px;top:462.18px;font-size:12px;line-height:20px;letter-spacing:-0.1px">Event Staff</div>
<div class="t" style="left:-51.20px;top:462.18px;width:400px;text-align:right;font-size:12px;line-height:20px;color:#8a8a8a">[USD]</div>
<div class="t" style="left:21.50px;top:462.18px;width:400px;text-align:right;font-size:12px;line-height:20px;letter-spacing:-0.2px;">(103,795)</div>
<div class="t" style="left:104.50px;top:462.18px;width:400px;text-align:right;font-size:12px;line-height:20px;letter-spacing:-0.2px;">(123,100)</div>
<div class="t" style="left:196.50px;top:462.18px;width:400px;text-align:right;font-size:12px;line-height:20px;letter-spacing:-0.2px;">(144,824)</div>
<div class="dot" style="left:599.60px;top:467.25px;width:9px;height:9px;background:#da552f;border:1px solid #b03b1a"></div>
<div class="t" style="left:273.00px;top:462.18px;width:400px;text-align:right;font-size:12px;line-height:20px;letter-spacing:-0.2px;">(19,305)</div>
<div class="t" style="left:333.00px;top:462.18px;width:400px;text-align:right;font-size:12px;line-height:20px;letter-spacing:-0.2px;">16%</div>
<div class="dot" style="left:737.10px;top:467.25px;width:9px;height:9px;background:#68a68b;border:1px solid #3f7f62"></div>
<div class="t" style="left:421.70px;top:462.18px;width:400px;text-align:right;font-size:12px;line-height:20px;letter-spacing:-0.2px;">21,724<span style="visibility:hidden">)</span></div>
<div class="t" style="left:481.50px;top:462.18px;width:400px;text-align:right;font-size:12px;line-height:20px;letter-spacing:-0.2px;">-15%</div>
<div class="t" style="left:575.00px;top:462.18px;width:400px;text-align:right;font-size:12px;line-height:20px;letter-spacing:-0.2px;">(482,445)</div>
<div class="t" style="left:658.00px;top:462.18px;width:400px;text-align:right;font-size:12px;line-height:20px;letter-spacing:-0.2px;">(686,507)</div>
<div class="t" style="left:752.00px;top:462.18px;width:400px;text-align:right;font-size:12px;line-height:20px;letter-spacing:-0.2px;">(704,056)</div>
<div class="dot" style="left:1154.80px;top:467.25px;width:9px;height:9px;background:#da552f;border:1px solid #b03b1a"></div>
<div class="t" style="left:825.00px;top:462.18px;width:400px;text-align:right;font-size:12px;line-height:20px;letter-spacing:-0.2px;">(204,062)</div>
<div class="t" style="left:881.00px;top:462.18px;width:400px;text-align:right;font-size:12px;line-height:20px;letter-spacing:-0.2px;">30%</div>
<div class="dot" style="left:1284.30px;top:467.25px;width:9px;height:9px;background:#68a68b;border:1px solid #3f7f62"></div>
<div class="t" style="left:956.00px;top:462.18px;width:400px;text-align:right;font-size:12px;line-height:20px;letter-spacing:-0.2px;">17,548<span style="visibility:hidden">)</span></div>
<div class="t" style="left:1041.00px;top:462.18px;width:400px;text-align:right;font-size:12px;line-height:20px;letter-spacing:-0.2px;">-2%</div>
<div class="t" style="left:11.00px;top:478.73px;font-size:12px;line-height:20px;letter-spacing:-0.1px">Subcontracted Services</div>
<div class="t" style="left:-51.20px;top:478.73px;width:400px;text-align:right;font-size:12px;line-height:20px;color:#8a8a8a">[USD]</div>
<div class="t" style="left:21.50px;top:478.73px;width:400px;text-align:right;font-size:12px;line-height:20px;letter-spacing:-0.2px;">(35,686)</div>
<div class="t" style="left:104.50px;top:478.73px;width:400px;text-align:right;font-size:12px;line-height:20px;letter-spacing:-0.2px;">(55,670)</div>
<div class="t" style="left:196.50px;top:478.73px;width:400px;text-align:right;font-size:12px;line-height:20px;letter-spacing:-0.2px;">(53,529)</div>
<div class="dot" style="left:599.60px;top:483.80px;width:9px;height:9px;background:#da552f;border:1px solid #b03b1a"></div>
<div class="t" style="left:273.00px;top:478.73px;width:400px;text-align:right;font-size:12px;line-height:20px;letter-spacing:-0.2px;">(19,984)</div>
<div class="t" style="left:333.00px;top:478.73px;width:400px;text-align:right;font-size:12px;line-height:20px;letter-spacing:-0.2px;">36%</div>
<div class="dot" style="left:737.10px;top:483.80px;width:9px;height:9px;background:#da552f;border:1px solid #b03b1a"></div>
<div class="t" style="left:421.70px;top:478.73px;width:400px;text-align:right;font-size:12px;line-height:20px;letter-spacing:-0.2px;">(2,141)</div>
<div class="t" style="left:481.50px;top:478.73px;width:400px;text-align:right;font-size:12px;line-height:20px;letter-spacing:-0.2px;">4%</div>
<div class="t" style="left:575.00px;top:478.73px;width:400px;text-align:right;font-size:12px;line-height:20px;letter-spacing:-0.2px;">(180,002)</div>
<div class="t" style="left:658.00px;top:478.73px;width:400px;text-align:right;font-size:12px;line-height:20px;letter-spacing:-0.2px;">(260,589)</div>
<div class="t" style="left:752.00px;top:478.73px;width:400px;text-align:right;font-size:12px;line-height:20px;letter-spacing:-0.2px;">(261,743)</div>
<div class="dot" style="left:1154.80px;top:483.80px;width:9px;height:9px;background:#da552f;border:1px solid #b03b1a"></div>
<div class="t" style="left:825.00px;top:478.73px;width:400px;text-align:right;font-size:12px;line-height:20px;letter-spacing:-0.2px;">(80,587)</div>
<div class="t" style="left:881.00px;top:478.73px;width:400px;text-align:right;font-size:12px;line-height:20px;letter-spacing:-0.2px;">31%</div>
<div class="dot" style="left:1284.30px;top:483.80px;width:9px;height:9px;background:#68a68b;border:1px solid #3f7f62"></div>
<div class="t" style="left:956.00px;top:478.73px;width:400px;text-align:right;font-size:12px;line-height:20px;letter-spacing:-0.2px;">1,154<span style="visibility:hidden">)</span></div>
<div class="t" style="left:1041.00px;top:478.73px;width:400px;text-align:right;font-size:12px;line-height:20px;letter-spacing:-0.2px;">0%</div>
<div class="t" style="left:11.00px;top:495.28px;font-size:12px;line-height:20px;letter-spacing:-0.1px">Other Cost of Sale</div>
<div class="t" style="left:-51.20px;top:495.28px;width:400px;text-align:right;font-size:12px;line-height:20px;color:#8a8a8a">[USD]</div>
<div class="t" style="left:21.50px;top:495.28px;width:400px;text-align:right;font-size:12px;line-height:20px;letter-spacing:-0.2px;">(3,873)</div>
<div class="t" style="left:104.50px;top:495.28px;width:400px;text-align:right;font-size:12px;line-height:20px;letter-spacing:-0.2px;">(6,333)</div>
<div class="t" style="left:196.50px;top:495.28px;width:400px;text-align:right;font-size:12px;line-height:20px;letter-spacing:-0.2px;">(6,141)</div>
<div class="dot" style="left:599.60px;top:500.35px;width:9px;height:9px;background:#da552f;border:1px solid #b03b1a"></div>
<div class="t" style="left:273.00px;top:495.28px;width:400px;text-align:right;font-size:12px;line-height:20px;letter-spacing:-0.2px;">(2,460)</div>
<div class="t" style="left:333.00px;top:495.28px;width:400px;text-align:right;font-size:12px;line-height:20px;letter-spacing:-0.2px;">39%</div>
<div class="dot" style="left:737.10px;top:500.35px;width:9px;height:9px;background:#da552f;border:1px solid #b03b1a"></div>
<div class="t" style="left:421.70px;top:495.28px;width:400px;text-align:right;font-size:12px;line-height:20px;letter-spacing:-0.2px;">(192)</div>
<div class="t" style="left:481.50px;top:495.28px;width:400px;text-align:right;font-size:12px;line-height:20px;letter-spacing:-0.2px;">3%</div>
<div class="t" style="left:575.00px;top:495.28px;width:400px;text-align:right;font-size:12px;line-height:20px;letter-spacing:-0.2px;">(20,380)</div>
<div class="t" style="left:658.00px;top:495.28px;width:400px;text-align:right;font-size:12px;line-height:20px;letter-spacing:-0.2px;">(30,468)</div>
<div class="t" style="left:752.00px;top:495.28px;width:400px;text-align:right;font-size:12px;line-height:20px;letter-spacing:-0.2px;">(29,644)</div>
<div class="dot" style="left:1154.80px;top:500.35px;width:9px;height:9px;background:#da552f;border:1px solid #b03b1a"></div>
<div class="t" style="left:825.00px;top:495.28px;width:400px;text-align:right;font-size:12px;line-height:20px;letter-spacing:-0.2px;">(10,088)</div>
<div class="t" style="left:881.00px;top:495.28px;width:400px;text-align:right;font-size:12px;line-height:20px;letter-spacing:-0.2px;">33%</div>
<div class="dot" style="left:1284.30px;top:500.35px;width:9px;height:9px;background:#da552f;border:1px solid #b03b1a"></div>
<div class="t" style="left:956.00px;top:495.28px;width:400px;text-align:right;font-size:12px;line-height:20px;letter-spacing:-0.2px;">(824)</div>
<div class="t" style="left:1041.00px;top:495.28px;width:400px;text-align:right;font-size:12px;line-height:20px;letter-spacing:-0.2px;">3%</div>
<div style="left:1px;top:513px;width:884px;height:1px;background:#000;"></div>
<div style="left:893px;top:513px;width:552px;height:1px;background:#000;"></div>
<div class="t" style="left:3.00px;top:511.93px;font-size:12px;line-height:20px;font-weight:bold">Total revenue</div>
<div class="t" style="left:-51.20px;top:511.93px;width:400px;text-align:right;font-size:12px;line-height:20px;color:#7c7c7c;-webkit-text-stroke:0.35px #7c7c7c">[USD]</div>
<div class="t" style="left:21.50px;top:511.93px;width:400px;text-align:right;font-size:12px;line-height:20px;letter-spacing:-0.2px;font-weight:bold">(215,551)</div>
<div class="t" style="left:104.50px;top:511.93px;width:400px;text-align:right;font-size:12px;line-height:20px;letter-spacing:-0.2px;font-weight:bold">(290,012)</div>
<div class="t" style="left:196.50px;top:511.93px;width:400px;text-align:right;font-size:12px;line-height:20px;letter-spacing:-0.2px;font-weight:bold">(302,551)</div>
<div class="t" style="left:273.00px;top:511.93px;width:400px;text-align:right;font-size:12px;line-height:20px;letter-spacing:-0.2px;font-weight:bold">(74,461)</div>
<div class="t" style="left:333.00px;top:511.93px;width:400px;text-align:right;font-size:12px;line-height:20px;letter-spacing:-0.2px;font-weight:bold">26%</div>
<div class="t" style="left:421.70px;top:511.93px;width:400px;text-align:right;font-size:12px;line-height:20px;letter-spacing:-0.2px;font-weight:bold">12,539<span style="visibility:hidden">)</span></div>
<div class="t" style="left:481.50px;top:511.93px;width:400px;text-align:right;font-size:12px;line-height:20px;letter-spacing:-0.2px;font-weight:bold">-4%</div>
<div class="t" style="left:575.00px;top:511.93px;width:400px;text-align:right;font-size:12px;line-height:20px;letter-spacing:-0.2px;font-weight:bold">(1,034,079)</div>
<div class="t" style="left:658.00px;top:511.93px;width:400px;text-align:right;font-size:12px;line-height:20px;letter-spacing:-0.2px;font-weight:bold">(1,460,701)</div>
<div class="t" style="left:752.00px;top:511.93px;width:400px;text-align:right;font-size:12px;line-height:20px;letter-spacing:-0.2px;font-weight:bold">(1,474,206)</div>
<div class="t" style="left:825.00px;top:511.93px;width:400px;text-align:right;font-size:12px;line-height:20px;letter-spacing:-0.2px;font-weight:bold">(426,622)</div>
<div class="t" style="left:881.00px;top:511.93px;width:400px;text-align:right;font-size:12px;line-height:20px;letter-spacing:-0.2px;font-weight:bold">29%</div>
<div class="t" style="left:956.00px;top:511.93px;width:400px;text-align:right;font-size:12px;line-height:20px;letter-spacing:-0.2px;font-weight:bold">13,505<span style="visibility:hidden">)</span></div>
<div class="t" style="left:1041.00px;top:511.93px;width:400px;text-align:right;font-size:12px;line-height:20px;letter-spacing:-0.2px;font-weight:bold">-1%</div>
<div style="left:1px;top:529px;width:884px;height:2px;background:#555;"></div>
<div style="left:893px;top:529px;width:552px;height:2px;background:#555;"></div>
<div class="t" style="left:3.00px;top:528.33px;font-size:12px;line-height:20px;font-weight:bold">Gross Margin</div>
<div class="t" style="left:-51.40px;top:528.33px;width:400px;text-align:right;font-size:12px;line-height:20px;color:#7c7c7c;-webkit-text-stroke:0.35px #7c7c7c">USD</div>
<div class="t" style="left:21.50px;top:528.33px;width:400px;text-align:right;font-size:12px;line-height:20px;letter-spacing:-0.2px;font-weight:bold">199,326</div>
<div class="t" style="left:104.50px;top:528.33px;width:400px;text-align:right;font-size:12px;line-height:20px;letter-spacing:-0.2px;font-weight:bold">334,307</div>
<div class="t" style="left:196.50px;top:528.33px;width:400px;text-align:right;font-size:12px;line-height:20px;letter-spacing:-0.2px;font-weight:bold">311,545</div>
<div class="t" style="left:273.00px;top:528.33px;width:400px;text-align:right;font-size:12px;line-height:20px;letter-spacing:-0.2px;font-weight:bold">134,981</div>
<div class="t" style="left:421.70px;top:528.33px;width:400px;text-align:right;font-size:12px;line-height:20px;letter-spacing:-0.2px;font-weight:bold">22,762<span style="visibility:hidden">)</span></div>
<div class="t" style="left:333.00px;top:528.33px;width:400px;text-align:right;font-size:12px;line-height:20px;letter-spacing:-0.2px;font-weight:bold">40%</div>
<div class="t" style="left:481.50px;top:528.33px;width:400px;text-align:right;font-size:12px;line-height:20px;letter-spacing:-0.2px;font-weight:bold">7%</div>
<div class="t" style="left:575.00px;top:528.33px;width:400px;text-align:right;font-size:12px;line-height:20px;letter-spacing:-0.2px;font-weight:bold">1,079,933</div>
<div class="t" style="left:658.00px;top:528.33px;width:400px;text-align:right;font-size:12px;line-height:20px;letter-spacing:-0.2px;font-weight:bold">1,619,315</div>
<div class="t" style="left:752.00px;top:528.33px;width:400px;text-align:right;font-size:12px;line-height:20px;letter-spacing:-0.2px;font-weight:bold">1,490,200</div>
<div class="t" style="left:825.00px;top:528.33px;width:400px;text-align:right;font-size:12px;line-height:20px;letter-spacing:-0.2px;font-weight:bold">539,382</div>
<div class="t" style="left:942.20px;top:528.33px;width:400px;text-align:right;font-size:12px;line-height:20px;letter-spacing:-0.2px;font-weight:bold">129,115</div>
<div class="t" style="left:881.00px;top:528.33px;width:400px;text-align:right;font-size:12px;line-height:20px;letter-spacing:-0.2px;font-weight:bold">33%</div>
<div class="dot" style="left:1284.30px;top:533.40px;width:9px;height:9px;background:#68a68b;border:1px solid #3f7f62"></div>
<div class="t" style="left:1041.00px;top:528.33px;width:400px;text-align:right;font-size:12px;line-height:20px;letter-spacing:-0.2px;font-weight:bold">9%</div>
<div class="t" style="left:-93.00px;top:544.23px;width:400px;text-align:right;font-size:12px;line-height:20px;color:#2474cc;font-style:italic">Gross Margin</div>
<div class="t" style="left:-52.50px;top:544.23px;width:400px;text-align:right;font-size:12px;line-height:20px;color:#2474cc;font-style:italic">%</div>
<div class="t" style="left:19.50px;top:544.23px;width:400px;text-align:right;font-size:12px;line-height:20px;color:#2474cc;font-style:italic">48%</div>
<div class="t" style="left:103.00px;top:544.23px;width:400px;text-align:right;font-size:12px;line-height:20px;color:#2474cc;font-style:italic">54%</div>
<div class="t" style="left:194.50px;top:544.23px;width:400px;text-align:right;font-size:12px;line-height:20px;color:#2474cc;font-style:italic">51%</div>
<div class="t" style="left:573.00px;top:544.23px;width:400px;text-align:right;font-size:12px;line-height:20px;color:#2474cc;font-style:italic">51%</div>
<div class="t" style="left:657.00px;top:544.23px;width:400px;text-align:right;font-size:12px;line-height:20px;color:#2474cc;font-style:italic">53%</div>
<div class="t" style="left:750.00px;top:544.23px;width:400px;text-align:right;font-size:12px;line-height:20px;color:#2474cc;font-style:italic">50%</div>
<div class="t" style="left:3.00px;top:562.33px;font-size:12px;line-height:20px;font-weight:bold">Operating Expenses</div>
<div class="t" style="left:11.00px;top:577.83px;font-size:12px;line-height:20px;letter-spacing:-0.1px">Payroll</div>
<div class="t" style="left:-51.20px;top:577.83px;width:400px;text-align:right;font-size:12px;line-height:20px;color:#111">[USD]</div>
<div class="t" style="left:21.50px;top:577.83px;width:400px;text-align:right;font-size:12px;line-height:20px;letter-spacing:-0.2px;">(59,461)</div>
<div class="t" style="left:104.50px;top:577.83px;width:400px;text-align:right;font-size:12px;line-height:20px;letter-spacing:-0.2px;">(59,287)</div>
<div class="t" style="left:196.50px;top:577.83px;width:400px;text-align:right;font-size:12px;line-height:20px;letter-spacing:-0.2px;">(56,875)</div>
<div class="dot" style="left:599.60px;top:582.90px;width:9px;height:9px;background:#68a68b;border:1px solid #3f7f62"></div>
<div class="t" style="left:273.00px;top:577.83px;width:400px;text-align:right;font-size:12px;line-height:20px;letter-spacing:-0.2px;">174<span style="visibility:hidden">)</span></div>
<div class="t" style="left:333.00px;top:577.83px;width:400px;text-align:right;font-size:12px;line-height:20px;letter-spacing:-0.2px;">0%</div>
<div class="dot" style="left:737.10px;top:582.90px;width:9px;height:9px;background:#da552f;border:1px solid #b03b1a"></div>
<div class="t" style="left:421.70px;top:577.83px;width:400px;text-align:right;font-size:12px;line-height:20px;letter-spacing:-0.2px;">(2,412)</div>
<div class="t" style="left:481.50px;top:577.83px;width:400px;text-align:right;font-size:12px;line-height:20px;letter-spacing:-0.2px;">4%</div>
<div class="t" style="left:575.00px;top:577.83px;width:400px;text-align:right;font-size:12px;line-height:20px;letter-spacing:-0.2px;">(798,189)</div>
<div class="t" style="left:658.00px;top:577.83px;width:400px;text-align:right;font-size:12px;line-height:20px;letter-spacing:-0.2px;">(810,186)</div>
<div class="t" style="left:752.00px;top:577.83px;width:400px;text-align:right;font-size:12px;line-height:20px;letter-spacing:-0.2px;">(676,347)</div>
<div class="dot" style="left:1154.80px;top:582.90px;width:9px;height:9px;background:#da552f;border:1px solid #b03b1a"></div>
<div class="t" style="left:825.00px;top:577.83px;width:400px;text-align:right;font-size:12px;line-height:20px;letter-spacing:-0.2px;">(11,997)</div>
<div class="t" style="left:881.00px;top:577.83px;width:400px;text-align:right;font-size:12px;line-height:20px;letter-spacing:-0.2px;">1%</div>
<div class="dot" style="left:1284.30px;top:582.90px;width:9px;height:9px;background:#da552f;border:1px solid #b03b1a"></div>
<div class="t" style="left:956.00px;top:577.83px;width:400px;text-align:right;font-size:12px;line-height:20px;letter-spacing:-0.2px;">(133,839)</div>
<div class="t" style="left:1041.00px;top:577.83px;width:400px;text-align:right;font-size:12px;line-height:20px;letter-spacing:-0.2px;">20%</div>
<div class="t" style="left:11.00px;top:594.38px;font-size:12px;line-height:20px;letter-spacing:-0.1px">Employee Benefits</div>
<div class="t" style="left:-51.20px;top:594.38px;width:400px;text-align:right;font-size:12px;line-height:20px;color:#111">[USD]</div>
<div class="t" style="left:21.50px;top:594.38px;width:400px;text-align:right;font-size:12px;line-height:20px;letter-spacing:-0.2px;">(8,451)</div>
<div class="t" style="left:104.50px;top:594.38px;width:400px;text-align:right;font-size:12px;line-height:20px;letter-spacing:-0.2px;">(7,646)</div>
<div class="t" style="left:196.50px;top:594.38px;width:400px;text-align:right;font-size:12px;line-height:20px;letter-spacing:-0.2px;">(6,256)</div>
<div class="dot" style="left:599.60px;top:599.45px;width:9px;height:9px;background:#68a68b;border:1px solid #3f7f62"></div>
<div class="t" style="left:273.00px;top:594.38px;width:400px;text-align:right;font-size:12px;line-height:20px;letter-spacing:-0.2px;">805<span style="visibility:hidden">)</span></div>
<div class="t" style="left:333.00px;top:594.38px;width:400px;text-align:right;font-size:12px;line-height:20px;letter-spacing:-0.2px;">-11%</div>
<div class="dot" style="left:737.10px;top:599.45px;width:9px;height:9px;background:#da552f;border:1px solid #b03b1a"></div>
<div class="t" style="left:421.70px;top:594.38px;width:400px;text-align:right;font-size:12px;line-height:20px;letter-spacing:-0.2px;">(1,390)</div>
<div class="t" style="left:481.50px;top:594.38px;width:400px;text-align:right;font-size:12px;line-height:20px;letter-spacing:-0.2px;">22%</div>
<div class="t" style="left:575.00px;top:594.38px;width:400px;text-align:right;font-size:12px;line-height:20px;letter-spacing:-0.2px;">(81,716)</div>
<div class="t" style="left:658.00px;top:594.38px;width:400px;text-align:right;font-size:12px;line-height:20px;letter-spacing:-0.2px;">(92,706)</div>
<div class="t" style="left:752.00px;top:594.38px;width:400px;text-align:right;font-size:12px;line-height:20px;letter-spacing:-0.2px;">(74,398)</div>
<div class="dot" style="left:1154.80px;top:599.45px;width:9px;height:9px;background:#da552f;border:1px solid #b03b1a"></div>
<div class="t" style="left:825.00px;top:594.38px;width:400px;text-align:right;font-size:12px;line-height:20px;letter-spacing:-0.2px;">(10,990)</div>
<div class="t" style="left:881.00px;top:594.38px;width:400px;text-align:right;font-size:12px;line-height:20px;letter-spacing:-0.2px;">12%</div>
<div class="dot" style="left:1284.30px;top:599.45px;width:9px;height:9px;background:#da552f;border:1px solid #b03b1a"></div>
<div class="t" style="left:956.00px;top:594.38px;width:400px;text-align:right;font-size:12px;line-height:20px;letter-spacing:-0.2px;">(18,308)</div>
<div class="t" style="left:1041.00px;top:594.38px;width:400px;text-align:right;font-size:12px;line-height:20px;letter-spacing:-0.2px;">25%</div>
<div class="t" style="left:11.00px;top:610.93px;font-size:12px;line-height:20px;letter-spacing:-0.1px">Payroll Taxes</div>
<div class="t" style="left:-51.20px;top:610.93px;width:400px;text-align:right;font-size:12px;line-height:20px;color:#111">[USD]</div>
<div class="t" style="left:21.50px;top:610.93px;width:400px;text-align:right;font-size:12px;line-height:20px;letter-spacing:-0.2px;">(1,744)</div>
<div class="t" style="left:104.50px;top:610.93px;width:400px;text-align:right;font-size:12px;line-height:20px;letter-spacing:-0.2px;">(2,187)</div>
<div class="t" style="left:196.50px;top:610.93px;width:400px;text-align:right;font-size:12px;line-height:20px;letter-spacing:-0.2px;">(1,706)</div>
<div class="dot" style="left:599.60px;top:616.00px;width:9px;height:9px;background:#da552f;border:1px solid #b03b1a"></div>
<div class="t" style="left:273.00px;top:610.93px;width:400px;text-align:right;font-size:12px;line-height:20px;letter-spacing:-0.2px;">(444)</div>
<div class="t" style="left:333.00px;top:610.93px;width:400px;text-align:right;font-size:12px;line-height:20px;letter-spacing:-0.2px;">20%</div>
<div class="dot" style="left:737.10px;top:616.00px;width:9px;height:9px;background:#da552f;border:1px solid #b03b1a"></div>
<div class="t" style="left:421.70px;top:610.93px;width:400px;text-align:right;font-size:12px;line-height:20px;letter-spacing:-0.2px;">(481)</div>
<div class="t" style="left:481.50px;top:610.93px;width:400px;text-align:right;font-size:12px;line-height:20px;letter-spacing:-0.2px;">28%</div>
<div class="t" style="left:575.00px;top:610.93px;width:400px;text-align:right;font-size:12px;line-height:20px;letter-spacing:-0.2px;">(23,162)</div>
<div class="t" style="left:658.00px;top:610.93px;width:400px;text-align:right;font-size:12px;line-height:20px;letter-spacing:-0.2px;">(24,251)</div>
<div class="t" style="left:752.00px;top:610.93px;width:400px;text-align:right;font-size:12px;line-height:20px;letter-spacing:-0.2px;">(20,290)</div>
<div class="dot" style="left:1154.80px;top:616.00px;width:9px;height:9px;background:#da552f;border:1px solid #b03b1a"></div>
<div class="t" style="left:825.00px;top:610.93px;width:400px;text-align:right;font-size:12px;line-height:20px;letter-spacing:-0.2px;">(1,089)</div>
<div class="t" style="left:881.00px;top:610.93px;width:400px;text-align:right;font-size:12px;line-height:20px;letter-spacing:-0.2px;">4%</div>
<div class="dot" style="left:1284.30px;top:616.00px;width:9px;height:9px;background:#da552f;border:1px solid #b03b1a"></div>
<div class="t" style="left:956.00px;top:610.93px;width:400px;text-align:right;font-size:12px;line-height:20px;letter-spacing:-0.2px;">(3,961)</div>
<div class="t" style="left:1041.00px;top:610.93px;width:400px;text-align:right;font-size:12px;line-height:20px;letter-spacing:-0.2px;">20%</div>
<div class="t" style="left:11.00px;top:627.48px;font-size:12px;line-height:20px;letter-spacing:-0.1px">Depreciation &amp; Amortization</div>
<div class="t" style="left:-51.20px;top:627.48px;width:400px;text-align:right;font-size:12px;line-height:20px;color:#111">[USD]</div>
<div class="t" style="left:21.50px;top:627.48px;width:400px;text-align:right;font-size:12px;line-height:20px;letter-spacing:-0.2px;">(3,373)</div>
<div class="t" style="left:104.50px;top:627.48px;width:400px;text-align:right;font-size:12px;line-height:20px;letter-spacing:-0.2px;">(3,640)</div>
<div class="t" style="left:196.50px;top:627.48px;width:400px;text-align:right;font-size:12px;line-height:20px;letter-spacing:-0.2px;">(3,339)</div>
<div class="dot" style="left:599.60px;top:632.55px;width:9px;height:9px;background:#da552f;border:1px solid #b03b1a"></div>
<div class="t" style="left:273.00px;top:627.48px;width:400px;text-align:right;font-size:12px;line-height:20px;letter-spacing:-0.2px;">(267)</div>
<div class="t" style="left:333.00px;top:627.48px;width:400px;text-align:right;font-size:12px;line-height:20px;letter-spacing:-0.2px;">7%</div>
<div class="dot" style="left:737.10px;top:632.55px;width:9px;height:9px;background:#da552f;border:1px solid #b03b1a"></div>
<div class="t" style="left:421.70px;top:627.48px;width:400px;text-align:right;font-size:12px;line-height:20px;letter-spacing:-0.2px;">(301)</div>
<div class="t" style="left:481.50px;top:627.48px;width:400px;text-align:right;font-size:12px;line-height:20px;letter-spacing:-0.2px;">9%</div>
<div class="t" style="left:575.00px;top:627.48px;width:400px;text-align:right;font-size:12px;line-height:20px;letter-spacing:-0.2px;">(38,270)</div>
<div class="t" style="left:658.00px;top:627.48px;width:400px;text-align:right;font-size:12px;line-height:20px;letter-spacing:-0.2px;">(41,843)</div>
<div class="t" style="left:752.00px;top:627.48px;width:400px;text-align:right;font-size:12px;line-height:20px;letter-spacing:-0.2px;">(40,073)</div>
<div class="dot" style="left:1154.80px;top:632.55px;width:9px;height:9px;background:#da552f;border:1px solid #b03b1a"></div>
<div class="t" style="left:825.00px;top:627.48px;width:400px;text-align:right;font-size:12px;line-height:20px;letter-spacing:-0.2px;">(3,573)</div>
<div class="t" style="left:881.00px;top:627.48px;width:400px;text-align:right;font-size:12px;line-height:20px;letter-spacing:-0.2px;">9%</div>
<div class="dot" style="left:1284.30px;top:632.55px;width:9px;height:9px;background:#da552f;border:1px solid #b03b1a"></div>
<div class="t" style="left:956.00px;top:627.48px;width:400px;text-align:right;font-size:12px;line-height:20px;letter-spacing:-0.2px;">(1,770)</div>
<div class="t" style="left:1041.00px;top:627.48px;width:400px;text-align:right;font-size:12px;line-height:20px;letter-spacing:-0.2px;">4%</div>
<div class="t" style="left:11.00px;top:644.03px;font-size:12px;line-height:20px;letter-spacing:-0.1px">Marketing/Promotion</div>
<div class="t" style="left:-51.20px;top:644.03px;width:400px;text-align:right;font-size:12px;line-height:20px;color:#111">[USD]</div>
<div class="t" style="left:21.50px;top:644.03px;width:400px;text-align:right;font-size:12px;line-height:20px;letter-spacing:-0.2px;">(4,947)</div>
<div class="t" style="left:104.50px;top:644.03px;width:400px;text-align:right;font-size:12px;line-height:20px;letter-spacing:-0.2px;">(5,670)</div>
<div class="t" style="left:196.50px;top:644.03px;width:400px;text-align:right;font-size:12px;line-height:20px;letter-spacing:-0.2px;">(5,202)</div>
<div class="dot" style="left:599.60px;top:649.10px;width:9px;height:9px;background:#da552f;border:1px solid #b03b1a"></div>
<div class="t" style="left:273.00px;top:644.03px;width:400px;text-align:right;font-size:12px;line-height:20px;letter-spacing:-0.2px;">(723)</div>
<div class="t" style="left:333.00px;top:644.03px;width:400px;text-align:right;font-size:12px;line-height:20px;letter-spacing:-0.2px;">13%</div>
<div class="dot" style="left:737.10px;top:649.10px;width:9px;height:9px;background:#da552f;border:1px solid #b03b1a"></div>
<div class="t" style="left:421.70px;top:644.03px;width:400px;text-align:right;font-size:12px;line-height:20px;letter-spacing:-0.2px;">(468)</div>
<div class="t" style="left:481.50px;top:644.03px;width:400px;text-align:right;font-size:12px;line-height:20px;letter-spacing:-0.2px;">9%</div>
<div class="t" style="left:575.00px;top:644.03px;width:400px;text-align:right;font-size:12px;line-height:20px;letter-spacing:-0.2px;">(59,133)</div>
<div class="t" style="left:658.00px;top:644.03px;width:400px;text-align:right;font-size:12px;line-height:20px;letter-spacing:-0.2px;">(62,795)</div>
<div class="t" style="left:752.00px;top:644.03px;width:400px;text-align:right;font-size:12px;line-height:20px;letter-spacing:-0.2px;">(61,861)</div>
<div class="dot" style="left:1154.80px;top:649.10px;width:9px;height:9px;background:#da552f;border:1px solid #b03b1a"></div>
<div class="t" style="left:825.00px;top:644.03px;width:400px;text-align:right;font-size:12px;line-height:20px;letter-spacing:-0.2px;">(3,662)</div>
<div class="t" style="left:881.00px;top:644.03px;width:400px;text-align:right;font-size:12px;line-height:20px;letter-spacing:-0.2px;">6%</div>
<div class="dot" style="left:1284.30px;top:649.10px;width:9px;height:9px;background:#da552f;border:1px solid #b03b1a"></div>
<div class="t" style="left:956.00px;top:644.03px;width:400px;text-align:right;font-size:12px;line-height:20px;letter-spacing:-0.2px;">(934)</div>
<div class="t" style="left:1041.00px;top:644.03px;width:400px;text-align:right;font-size:12px;line-height:20px;letter-spacing:-0.2px;">2%</div>
<div class="t" style="left:11.00px;top:660.58px;font-size:12px;line-height:20px;letter-spacing:-0.1px">Rent</div>
<div class="t" style="left:-51.20px;top:660.58px;width:400px;text-align:right;font-size:12px;line-height:20px;color:#111">[USD]</div>
<div class="t" style="left:21.50px;top:660.58px;width:400px;text-align:right;font-size:12px;line-height:20px;letter-spacing:-0.2px;">(2,601)</div>
<div class="t" style="left:104.50px;top:660.58px;width:400px;text-align:right;font-size:12px;line-height:20px;letter-spacing:-0.2px;">(2,861)</div>
<div class="t" style="left:196.50px;top:660.58px;width:400px;text-align:right;font-size:12px;line-height:20px;letter-spacing:-0.2px;">(2,601)</div>
<div class="dot" style="left:599.60px;top:665.65px;width:9px;height:9px;background:#da552f;border:1px solid #b03b1a"></div>
<div class="t" style="left:273.00px;top:660.58px;width:400px;text-align:right;font-size:12px;line-height:20px;letter-spacing:-0.2px;">(260)</div>
<div class="t" style="left:333.00px;top:660.58px;width:400px;text-align:right;font-size:12px;line-height:20px;letter-spacing:-0.2px;">9%</div>
<div class="dot" style="left:737.10px;top:665.65px;width:9px;height:9px;background:#da552f;border:1px solid #b03b1a"></div>
<div class="t" style="left:421.70px;top:660.58px;width:400px;text-align:right;font-size:12px;line-height:20px;letter-spacing:-0.2px;">(260)</div>
<div class="t" style="left:481.50px;top:660.58px;width:400px;text-align:right;font-size:12px;line-height:20px;letter-spacing:-0.2px;">10%</div>
<div class="t" style="left:575.00px;top:660.58px;width:400px;text-align:right;font-size:12px;line-height:20px;letter-spacing:-0.2px;">(30,951)</div>
<div class="t" style="left:658.00px;top:660.58px;width:400px;text-align:right;font-size:12px;line-height:20px;letter-spacing:-0.2px;">(31,937)</div>
<div class="t" style="left:752.00px;top:660.58px;width:400px;text-align:right;font-size:12px;line-height:20px;letter-spacing:-0.2px;">(30,930)</div>
<div class="dot" style="left:1154.80px;top:665.65px;width:9px;height:9px;background:#da552f;border:1px solid #b03b1a"></div>
<div class="t" style="left:825.00px;top:660.58px;width:400px;text-align:right;font-size:12px;line-height:20px;letter-spacing:-0.2px;">(986)</div>
<div class="t" style="left:881.00px;top:660.58px;width:400px;text-align:right;font-size:12px;line-height:20px;letter-spacing:-0.2px;">3%</div>
<div class="dot" style="left:1284.30px;top:665.65px;width:9px;height:9px;background:#da552f;border:1px solid #b03b1a"></div>
<div class="t" style="left:956.00px;top:660.58px;width:400px;text-align:right;font-size:12px;line-height:20px;letter-spacing:-0.2px;">(1,006)</div>
<div class="t" style="left:1041.00px;top:660.58px;width:400px;text-align:right;font-size:12px;line-height:20px;letter-spacing:-0.2px;">3%</div>
<div class="t" style="left:11.00px;top:677.13px;font-size:12px;line-height:20px;letter-spacing:-0.1px">Electricity</div>
<div class="t" style="left:-51.20px;top:677.13px;width:400px;text-align:right;font-size:12px;line-height:20px;color:#111">[USD]</div>
<div class="t" style="left:21.50px;top:677.13px;width:400px;text-align:right;font-size:12px;line-height:20px;letter-spacing:-0.2px;">(824)</div>
<div class="t" style="left:104.50px;top:677.13px;width:400px;text-align:right;font-size:12px;line-height:20px;letter-spacing:-0.2px;">(791)</div>
<div class="t" style="left:196.50px;top:677.13px;width:400px;text-align:right;font-size:12px;line-height:20px;letter-spacing:-0.2px;">(832)</div>
<div class="dot" style="left:599.60px;top:682.20px;width:9px;height:9px;background:#68a68b;border:1px solid #3f7f62"></div>
<div class="t" style="left:273.00px;top:677.13px;width:400px;text-align:right;font-size:12px;line-height:20px;letter-spacing:-0.2px;">33<span style="visibility:hidden">)</span></div>
<div class="t" style="left:333.00px;top:677.13px;width:400px;text-align:right;font-size:12px;line-height:20px;letter-spacing:-0.2px;">-4%</div>
<div class="dot" style="left:737.10px;top:682.20px;width:9px;height:9px;background:#68a68b;border:1px solid #3f7f62"></div>
<div class="t" style="left:421.70px;top:677.13px;width:400px;text-align:right;font-size:12px;line-height:20px;letter-spacing:-0.2px;">42<span style="visibility:hidden">)</span></div>
<div class="t" style="left:481.50px;top:677.13px;width:400px;text-align:right;font-size:12px;line-height:20px;letter-spacing:-0.2px;">-5%</div>
<div class="t" style="left:575.00px;top:677.13px;width:400px;text-align:right;font-size:12px;line-height:20px;letter-spacing:-0.2px;">(9,849)</div>
<div class="t" style="left:658.00px;top:677.13px;width:400px;text-align:right;font-size:12px;line-height:20px;letter-spacing:-0.2px;">(9,848)</div>
<div class="t" style="left:752.00px;top:677.13px;width:400px;text-align:right;font-size:12px;line-height:20px;letter-spacing:-0.2px;">(9,898)</div>
<div class="dot" style="left:1154.80px;top:682.20px;width:9px;height:9px;background:#68a68b;border:1px solid #3f7f62"></div>
<div class="t" style="left:825.00px;top:677.13px;width:400px;text-align:right;font-size:12px;line-height:20px;letter-spacing:-0.2px;">1<span style="visibility:hidden">)</span></div>
<div class="t" style="left:881.00px;top:677.13px;width:400px;text-align:right;font-size:12px;line-height:20px;letter-spacing:-0.2px;">0%</div>
<div class="dot" style="left:1284.30px;top:682.20px;width:9px;height:9px;background:#68a68b;border:1px solid #3f7f62"></div>
<div class="t" style="left:956.00px;top:677.13px;width:400px;text-align:right;font-size:12px;line-height:20px;letter-spacing:-0.2px;">50<span style="visibility:hidden">)</span></div>
<div class="t" style="left:1041.00px;top:677.13px;width:400px;text-align:right;font-size:12px;line-height:20px;letter-spacing:-0.2px;">-1%</div>
<div class="t" style="left:11.00px;top:693.68px;font-size:12px;line-height:20px;letter-spacing:-0.1px">Gas</div>
<div class="t" style="left:-51.20px;top:693.68px;width:400px;text-align:right;font-size:12px;line-height:20px;color:#111">[USD]</div>
<div class="t" style="left:21.50px;top:693.68px;width:400px;text-align:right;font-size:12px;line-height:20px;letter-spacing:-0.2px;">(808)</div>
<div class="t" style="left:104.50px;top:693.68px;width:400px;text-align:right;font-size:12px;line-height:20px;letter-spacing:-0.2px;">(766)</div>
<div class="t" style="left:196.50px;top:693.68px;width:400px;text-align:right;font-size:12px;line-height:20px;letter-spacing:-0.2px;">(832)</div>
<div class="dot" style="left:599.60px;top:698.75px;width:9px;height:9px;background:#68a68b;border:1px solid #3f7f62"></div>
<div class="t" style="left:273.00px;top:693.68px;width:400px;text-align:right;font-size:12px;line-height:20px;letter-spacing:-0.2px;">42<span style="visibility:hidden">)</span></div>
<div class="t" style="left:333.00px;top:693.68px;width:400px;text-align:right;font-size:12px;line-height:20px;letter-spacing:-0.2px;">-5%</div>
<div class="dot" style="left:737.10px;top:698.75px;width:9px;height:9px;background:#68a68b;border:1px solid #3f7f62"></div>
<div class="t" style="left:421.70px;top:693.68px;width:400px;text-align:right;font-size:12px;line-height:20px;letter-spacing:-0.2px;">67<span style="visibility:hidden">)</span></div>
<div class="t" style="left:481.50px;top:693.68px;width:400px;text-align:right;font-size:12px;line-height:20px;letter-spacing:-0.2px;">-8%</div>
<div class="t" style="left:575.00px;top:693.68px;width:400px;text-align:right;font-size:12px;line-height:20px;letter-spacing:-0.2px;">(10,114)</div>
<div class="t" style="left:658.00px;top:693.68px;width:400px;text-align:right;font-size:12px;line-height:20px;letter-spacing:-0.2px;">(9,544)</div>
<div class="t" style="left:752.00px;top:693.68px;width:400px;text-align:right;font-size:12px;line-height:20px;letter-spacing:-0.2px;">(9,898)</div>
<div class="dot" style="left:1154.80px;top:698.75px;width:9px;height:9px;background:#68a68b;border:1px solid #3f7f62"></div>
<div class="t" style="left:825.00px;top:693.68px;width:400px;text-align:right;font-size:12px;line-height:20px;letter-spacing:-0.2px;">570<span style="visibility:hidden">)</span></div>
<div class="t" style="left:881.00px;top:693.68px;width:400px;text-align:right;font-size:12px;line-height:20px;letter-spacing:-0.2px;">-6%</div>
<div class="dot" style="left:1284.30px;top:698.75px;width:9px;height:9px;background:#68a68b;border:1px solid #3f7f62"></div>
<div class="t" style="left:956.00px;top:693.68px;width:400px;text-align:right;font-size:12px;line-height:20px;letter-spacing:-0.2px;">353<span style="visibility:hidden">)</span></div>
<div class="t" style="left:1041.00px;top:693.68px;width:400px;text-align:right;font-size:12px;line-height:20px;letter-spacing:-0.2px;">-4%</div>
<div style="left:351px;top:0px;width:1px;height:711px;background:#a3a3a3;"></div>
</body></html>
